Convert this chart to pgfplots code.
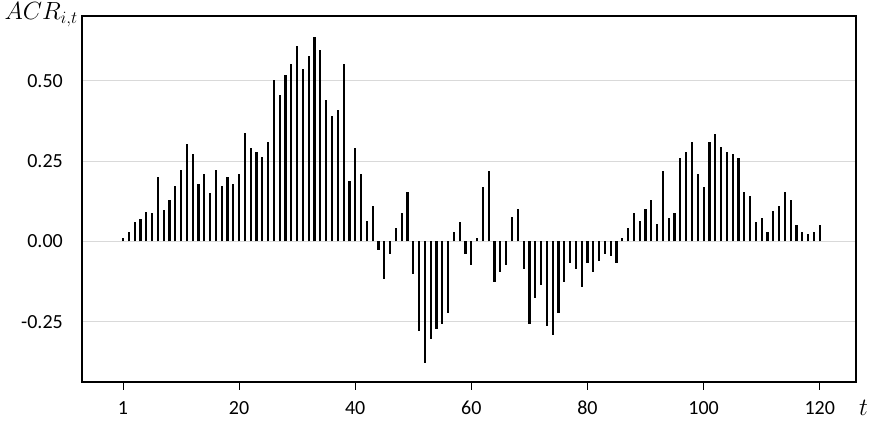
\documentclass[border=0pt]{standalone}
\usepackage{pgfplots}
\pgfplotsset{compat=1.18}
\usepackage{pgfplotstable}
\usepackage{fontspec}
\setmainfont{Carlito}
\pgfplotstableread{
x y
0 0.011
1 0.030
2 0.059
3 0.071
4 0.092
5 0.087
6 0.201
7 0.099
8 0.128
9 0.172
10 0.222
11 0.302
12 0.271
13 0.178
14 0.209
15 0.150
16 0.222
17 0.172
18 0.201
19 0.178
20 0.209
21 0.336
22 0.290
23 0.277
24 0.261
25 0.310
26 0.501
27 0.455
28 0.517
29 0.553
30 0.609
31 0.537
32 0.576
33 0.637
34 0.594
35 0.439
36 0.391
37 0.408
38 0.553
39 0.189
40 0.290
41 0.209
42 0.063
43 0.110
44 -0.027
45 -0.116
46 -0.040
47 0.043
48 0.088
49 0.154
50 -0.101
51 -0.278
52 -0.377
53 -0.303
54 -0.273
55 -0.256
56 -0.224
57 0.030
58 0.060
59 -0.039
60 -0.074
61 0.011
62 0.168
63 0.219
64 -0.128
65 -0.094
66 -0.074
67 0.077
68 0.100
69 -0.087
70 -0.256
71 -0.177
72 -0.136
73 -0.262
74 -0.292
75 -0.224
76 -0.128
77 -0.068
78 -0.087
79 -0.143
80 -0.068
81 -0.094
82 -0.060
83 -0.039
84 -0.046
85 -0.068
86 0.011
87 0.043
88 0.088
89 0.064
90 0.101
91 0.129
92 0.053
93 0.219
94 0.072
95 0.087
96 0.260
97 0.278
98 0.309
99 0.210
100 0.168
101 0.309
102 0.334
103 0.295
104 0.277
105 0.271
106 0.259
107 0.154
108 0.141
109 0.059
110 0.072
111 0.030
112 0.093
113 0.110
114 0.154
115 0.129
116 0.052
117 0.030
118 0.023
119 0.030
120 0.052
}\acr
\begin{document}
\begin{tikzpicture}
\begin{axis}[
  scale only axis, width=774pt, height=366pt,
  xmin=-7.06, xmax=126.25, ymin=-0.4376, ymax=0.701,
  axis line style={line width=1.6pt, black},
  xtick={0,20,40,60,80,100,120}, xticklabels={1,20,40,60,80,100,120},
  ytick={-0.25,0,0.25,0.5}, yticklabels={-0.25,0.00,0.25,0.50},
  tick pos=left, tick align=outside, major tick length=8pt,
  xtick style={line width=0.8pt, black}, ytick style={draw=none},
  ymajorgrids, major grid style={line width=0.9pt, color=black!15},
  tick label style={font=\fontsize{20}{24}\selectfont},
  yticklabel style={inner sep=0pt, xshift=-11pt},
  xticklabel style={inner sep=0pt, yshift=-11pt},
  xlabel={$t$},
  every axis x label/.style={at={(rel axis cs:1,0)}, anchor=base west, inner sep=0pt, xshift=3pt, yshift=-34pt, font=\fontsize{25}{29}\selectfont},
  ylabel={$ACR_{i,t}$},
  every axis y label/.style={at={(rel axis cs:0,1)}, anchor=base east, inner sep=0pt, xshift=-4pt, yshift=-4pt, font=\fontsize{25}{29}\selectfont},
  clip=false,
]
\addplot[ycomb, black, line width=2.2pt, mark=none] table {\acr};
\end{axis}
\pgfresetboundingbox
\path[use as bounding box] ([xshift=-82pt,yshift=-42pt]current axis.south west) rectangle ([xshift=16pt,yshift=16pt]current axis.north east);
\end{tikzpicture}
\end{document}
